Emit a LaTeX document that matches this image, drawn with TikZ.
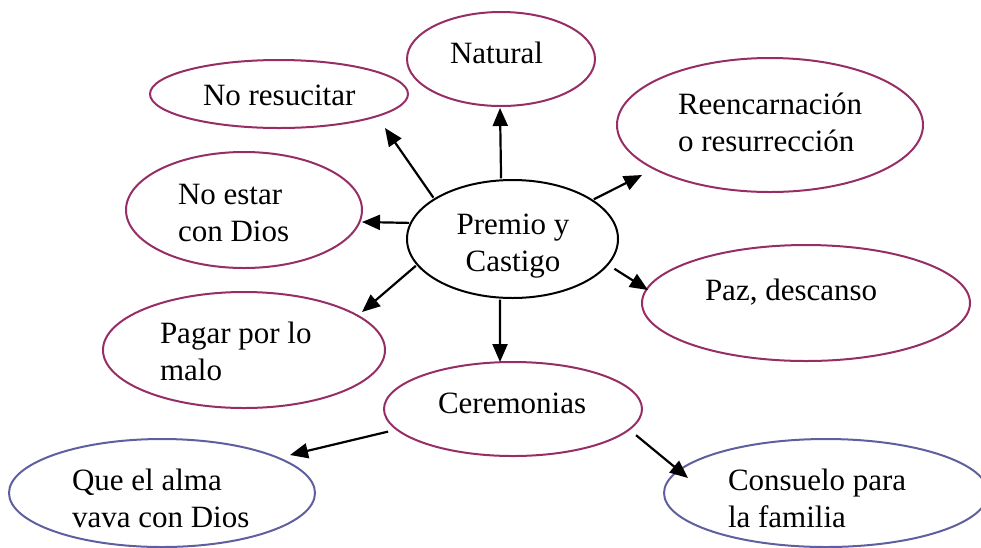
\documentclass[tikz,border=0pt]{standalone}
\usepackage{fontspec}
\setmainfont{Liberation Serif}
\usetikzlibrary{arrows.meta,shapes.geometric}
\definecolor{plum}{RGB}{150,45,100}
\definecolor{slate}{RGB}{95,95,160}

\begin{document}
\begin{tikzpicture}[x=1pt,y=-1pt]
\tikzstyle{every node}=[inner sep=0pt, outer sep=0pt]
\tikzstyle{bub}=[draw=plum, line width=2pt, ellipse]
\tikzstyle{bubb}=[draw=slate, line width=2pt, ellipse]
\tikzstyle{txt}=[anchor=base west, align=left, font=\fontsize{31}{37}\selectfont]
\tikzstyle{arr}=[line width=2.2pt, -{Triangle[length=18pt,width=15pt]}, shorten <=2pt]
\useasboundingbox (0,0) rectangle (981,547);
% ellipses
\draw (512.5,239) node (pc) [draw, line width=2pt, ellipse, minimum width=211pt, minimum height=118pt] {};
\draw (501,59) node (nat) [bub, minimum width=188pt, minimum height=94pt] {};
\draw (279,94) node (nores) [bub, minimum width=258pt, minimum height=68pt] {};
\draw (770,125) node (reenc) [bub, minimum width=306pt, minimum height=134pt] {};
\draw (244,210) node (noest) [bub, minimum width=236pt, minimum height=116pt] {};
\draw (806,303) node (paz) [bub, minimum width=328pt, minimum height=116pt] {};
\draw (244,350) node (pagar) [bub, minimum width=282pt, minimum height=116pt] {};
\draw (513,409) node (cer) [bub, minimum width=258pt, minimum height=94pt] {};
\draw (162,493) node (alma) [bubb, minimum width=306pt, minimum height=108pt] {};
\draw (826,493) node (cons) [bubb, minimum width=324pt, minimum height=108pt] {};
% texts (base of a two-line text is its last line)
\node (pcT) at (513,271) [txt, anchor=base, align=center] {Premio y\\Castigo};
\node (natT) at (450,63) [txt] {Natural};
\node (noresT) at (203,105) [txt] {No resucitar};
\node (reencT) at (678,151) [txt] {Reencarnación\\o resurrección};
\node (noestT) at (178,241) [txt] {No estar\\con Dios};
\node (pazT) at (705,300) [txt] {Paz, descanso};
\node (pagarT) at (160,380) [txt] {Pagar por lo\\malo};
\node (cerT) at (438,413) [txt] {Ceremonias};
\node (almaT) at (72,527) [txt] {Que el alma\\vava con Dios};
\node (consT) at (728,527) [txt] {Consuelo para\\la familia};
% arrow tips
\coordinate (natTip) at (500,108);
\coordinate (noresTip) at (385,128);
\coordinate (reencTip) at (642,175);
\coordinate (noestTip) at (362,222);
\coordinate (pazTip) at (648,290);
\coordinate (pagarTip) at (362,312);
\coordinate (cerTip) at (500,362);
\coordinate (almaTip) at (290,455);
\coordinate (consTip) at (688,478);
% arrows
\draw[arr] (pc.101) -- (natTip);
\draw[arr] (pc.153) -- (noresTip);
\draw[arr] (pc.26) -- (reencTip);
\draw[arr] (pc.171) -- (noestTip);
\draw[arr, shorten <=8pt] (pc.-15) -- (pazTip);
\draw[arr] (pc.195) -- (pagarTip);
\draw[arr] (pc.258) -- (cerTip);
\draw[arr, shorten <=9pt] (cer.190) -- (almaTip);
\draw[arr, shorten <=9pt] (cer.-10) -- (consTip);
\end{tikzpicture}
\end{document}
